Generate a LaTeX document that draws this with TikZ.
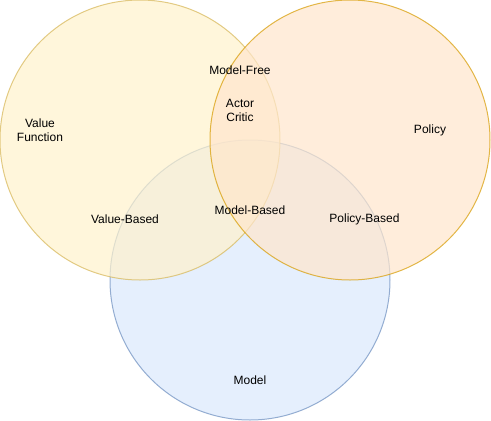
\documentclass[tikz,border=0pt]{standalone}
\usepackage{fontspec}
\setmainfont{Liberation Sans}
\definecolor{yfill}{HTML}{FFF2CC}\definecolor{ystroke}{HTML}{D6B656}
\definecolor{ofill}{HTML}{FFE6CC}\definecolor{ostroke}{HTML}{D79B00}
\definecolor{bfill}{HTML}{DAE8FC}\definecolor{bstroke}{HTML}{6C8EBF}
\begin{document}
\begin{tikzpicture}[x=1pt,y=-1pt,
  setcircle/.style={circle,minimum size=280pt,inner sep=0pt,line width=1pt,opacity=0.7},
  lbl/.style={font=\fontsize{12}{14}\selectfont,align=center,inner sep=0pt}]
\useasboundingbox (0,0) rectangle (491,421);
\node[setcircle,draw=bstroke,fill=bfill] (mod) at (250,280) {};
\node[setcircle,draw=ystroke,fill=yfill] (vf) at (140,140) {};
\node[setcircle,draw=ostroke,fill=ofill] (pol) at (350,140) {};
\node[lbl] (tvf) at (40,130) {Value\\Function};
\node[lbl] (tmf) at (240,70) {Model-Free};
\node[lbl] (tac) at (240,110) {Actor\\Critic};
\node[lbl] (tpol) at (430,130) {Policy};
\node[lbl] (tvb) at (125,219) {Value-Based};
\node[lbl] (tmb) at (250,210) {Model-Based};
\node[lbl] (tpb) at (364.5,219) {Policy-Based};
\node[lbl] (tmod) at (250,380) {Model};
\end{tikzpicture}
\end{document}
